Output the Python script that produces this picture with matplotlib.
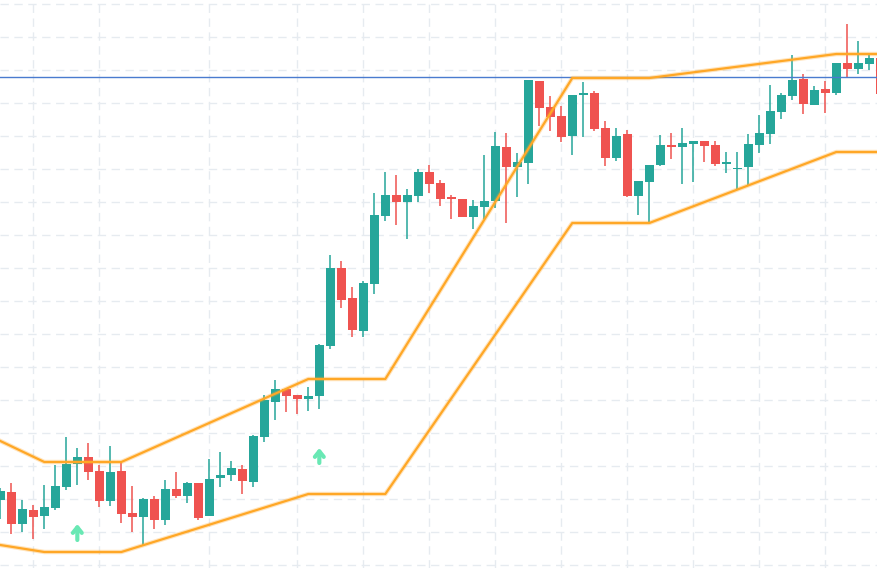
import matplotlib
matplotlib.use("Agg")
import matplotlib.pyplot as plt
import numpy as np

# candle data (arbitrary price units)
opens = [100, 108, 76, 90, 84, 92, 113, 136, 143, 129, 99, 129, 87, 83, 101, 80, 111, 104, 117, 84,
         122, 125, 131, 118, 163, 198, 211, 205, 201, 204, 254, 332, 302, 269, 316, 384, 405, 398, 404, 428,
         417, 403, 401, 383, 393, 399, 453, 433, 437, 519, 493, 484, 464, 505, 507, 472, 442, 466, 404, 418,
         435, 455, 453, 456, 459, 455, 436, 431, 433, 455, 466, 488, 504, 521, 495, 511, 507, 537, 531, 536, 542]
highs = [112, 117, 100, 95, 115, 135, 163, 152, 157, 135, 154, 138, 114, 102, 104, 120, 128, 118, 117, 141,
         148, 139, 135, 165, 205, 220, 211, 205, 213, 256, 345, 339, 313, 319, 407, 428, 425, 411, 431, 435,
         420, 405, 401, 400, 445, 468, 467, 447, 520, 519, 504, 494, 505, 518, 509, 479, 472, 470, 419, 435,
         465, 467, 472, 459, 459, 459, 448, 448, 466, 485, 515, 507, 545, 526, 514, 519, 537, 576, 559, 545, 542]
lows = [81, 66, 68, 61, 71, 90, 110, 115, 120, 93, 94, 77, 68, 54, 71, 75, 102, 97, 80, 84,
        113, 119, 106, 113, 158, 180, 188, 186, 189, 191, 251, 292, 263, 263, 306, 379, 375, 361, 398, 407,
        394, 381, 383, 371, 381, 392, 377, 403, 416, 474, 469, 458, 445, 463, 469, 434, 439, 403, 385, 378,
        434, 441, 416, 418, 438, 434, 427, 411, 415, 447, 456, 481, 500, 486, 495, 487, 505, 523, 526, 530, 506]
closes = [109, 76, 91, 83, 93, 114, 136, 143, 128, 99, 128, 86, 83, 101, 80, 111, 104, 117, 82, 121,
          125, 132, 119, 164, 200, 211, 204, 201, 204, 255, 332, 300, 270, 317, 385, 405, 398, 405, 428, 416,
          401, 401, 383, 394, 399, 454, 433, 438, 520, 492, 483, 463, 505, 507, 471, 442, 464, 404, 419, 435,
          455, 453, 457, 459, 454, 436, 438, 432, 456, 467, 489, 505, 520, 496, 510, 507, 537, 531, 537, 542, 506]

# channel nodes (candle index, level)
chan_idx = [0, 4, 11, 28, 35, 52, 59, 76, 81]
upper = [159, 138, 138, 221, 221, 522, 522, 546, 546]
lower = [55, 48, 48, 106, 106, 377, 377, 448, 448]

price_line = 523
signal_idx = [7, 29]
signal_lo = [60, 137]
signal_hi = [76, 152]

grid_x = [3, 9, 19, 27, 33, 39, 45, 51, 57, 63, 69, 75]
grid_y = [596 - 33 * i for i in range(18)]

up_col = '#26a69a'
dn_col = '#ef5350'

fig = plt.figure(figsize=(8.77, 5.68), dpi=100)
ax = fig.add_axes([0, 0, 1, 1])

for gx in grid_x:
    ax.axvline(gx, color='#e6ebf0', lw=1, ls=(0, (6, 4)), zorder=0)
for gy in grid_y:
    ax.axhline(gy, color='#e6ebf0', lw=1, ls=(0, (6, 4)), zorder=0)

x = np.arange(len(opens))
o = np.array(opens); h = np.array(highs); l = np.array(lows); c = np.array(closes)
cols = [up_col if cc >= oo else dn_col for oo, cc in zip(o, c)]
bottoms = np.minimum(o, c)
heights = np.maximum(np.abs(c - o), 1.5)
ax.vlines(x, l, h, colors=cols, lw=1.1, zorder=2)
ax.bar(x, heights, bottom=bottoms, width=0.8, color=cols, lw=0, zorder=3)

ax.axhline(price_line, color='#4a7bcf', lw=1, zorder=4)

for vals in (upper, lower):
    ax.plot(chan_idx, vals, color='#ffa726', lw=3.2, alpha=0.3, zorder=4)
    ax.plot(chan_idx, vals, color='#ffa726', lw=1.6, zorder=5)

for si, lo, hi in zip(signal_idx, signal_lo, signal_hi):
    ax.annotate('', xy=(si, hi), xytext=(si, lo),
                arrowprops=dict(arrowstyle='->,head_length=0.4,head_width=0.32',
                                color='#69e8b4', lw=3, shrinkA=0, shrinkB=0),
                zorder=6)

ax.set_xlim(-0.03, 79.7)
ax.set_ylim(32, 600)
ax.axis('off')

plt.savefig('out.png', dpi=100)
